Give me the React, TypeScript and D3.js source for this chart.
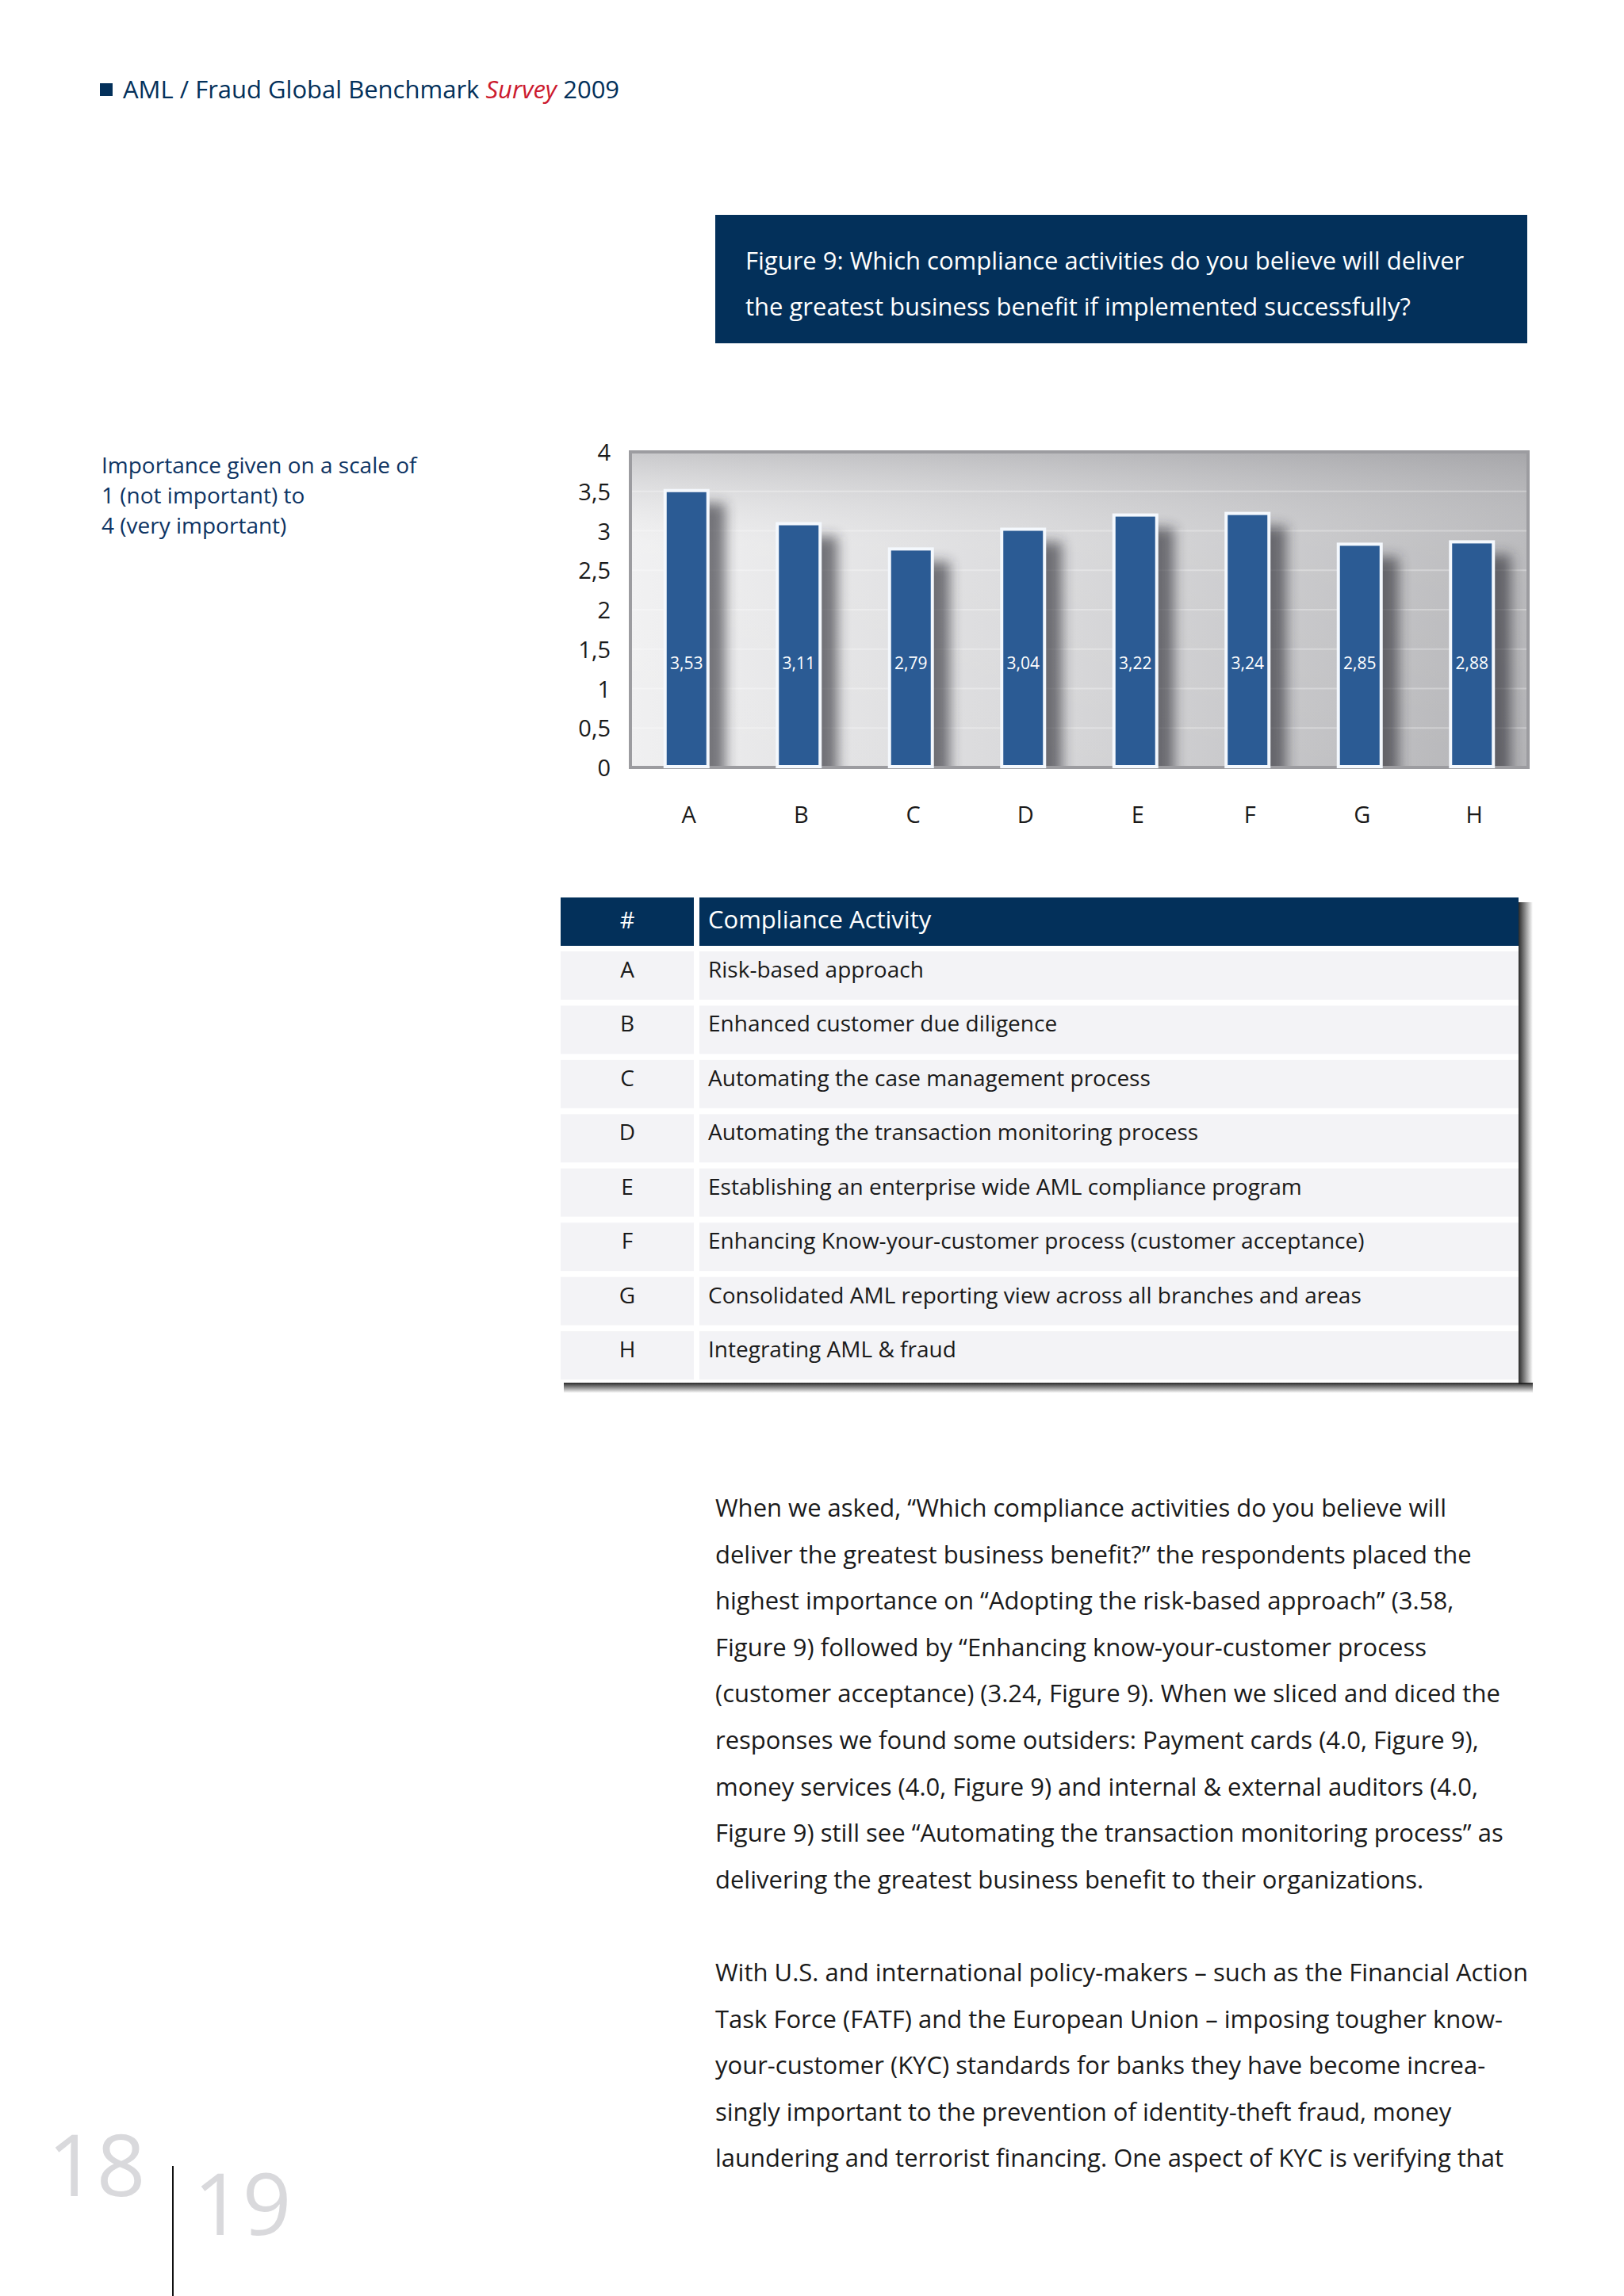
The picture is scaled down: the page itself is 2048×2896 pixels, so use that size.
import React from 'react';
import * as d3 from 'd3';

// chart data
const categories = ['A', 'B', 'C', 'D', 'E', 'F', 'G', 'H'];
const scores = [3.53, 3.11, 2.79, 3.04, 3.22, 3.24, 2.85, 2.88];
const yTicks = [0, 0.5, 1, 1.5, 2, 2.5, 3, 3.5, 4];

// table data
const activities = [
  'Risk-based approach',
  'Enhanced customer due diligence',
  'Automating the case management process',
  'Automating the transaction monitoring process',
  'Establishing an enterprise wide AML compliance program',
  'Enhancing Know-your-customer process (customer acceptance)',
  'Consolidated AML reporting view across all branches and areas',
  'Integrating AML & fraud',
];

const titleLines = [
  'Figure 9: Which compliance activities do you believe will deliver',
  'the greatest business benefit if implemented successfully?',
];

const noteLines = [
  'Importance given on a scale of',
  '1 (not important) to',
  '4 (very important)',
];

const para1 = [
  'When we asked, \u201cWhich compliance activities do you believe will',
  'deliver the greatest business benefit?\u201d the respondents placed the',
  'highest importance on \u201cAdopting the risk-based approach\u201d (3.58,',
  'Figure 9) followed by \u201cEnhancing know-your-customer process',
  '(customer acceptance) (3.24, Figure 9). When we sliced and diced the',
  'responses we found some outsiders: Payment cards (4.0, Figure 9),',
  'money services (4.0, Figure 9) and internal & external auditors (4.0,',
  'Figure 9) still see \u201cAutomating the transaction monitoring process\u201d as',
  'delivering the greatest business benefit to their organizations.',
];

const para2 = [
  'With U.S. and international policy-makers \u2013 such as the Financial Action',
  'Task Force (FATF) and the European Union \u2013 imposing tougher know-',
  'your-customer (KYC) standards for banks they have become increa-',
  'singly important to the prevention of identity-theft fraud, money',
  'laundering and terrorist financing. One aspect of KYC is verifying that',
];

const NAVY = '#03305a';
const FONT = '"Open Sans", "Noto Sans", sans-serif';
const comma = d3.formatLocale({ decimal: ',', thousands: '.', grouping: [3], currency: ['', ''] });

const App: React.FC = () => {
  const W = 2048;
  const H = 2896;

  // plot area
  const plot = { left: 795, right: 1927, top: 570, bottom: 968 };

  const x = d3
    .scaleBand<string>()
    .domain(categories)
    .range([plot.left, plot.right])
    .paddingInner(0.59)
    .paddingOuter(0.295);

  const y = d3.scaleLinear().domain([0, 4]).range([plot.bottom, plot.top]);

  const fmtTick = (v: number) => (v % 1 === 0 ? String(v) : comma.format('.1f')(v));
  const fmtVal = comma.format('.2f');

  // table rows
  const rowTop = d3
    .scaleBand<string>()
    .domain(categories)
    .range([1200, 1740])
    .paddingInner(0.11);

  const tbl = { left: 707, col: 875, col2: 882, right: 1915 };

  const lineY = (start: number, i: number) => start + i * 58.6;

  return (
    <svg
      width={W}
      height={H}
      viewBox={`0 0 ${W} ${H}`}
      style={{ position: 'absolute', left: 0, top: 0, display: 'block', background: '#fff' }}
      fontFamily={FONT}
    >
      <defs>
        <linearGradient id="bgH" x1="0" x2="1" y1="0" y2="0">
          <stop offset="0%" stopColor="#efeff0" />
          <stop offset="45%" stopColor="#d6d6d8" />
          <stop offset="100%" stopColor="#afafb2" />
        </linearGradient>
        <linearGradient id="bgV" x1="0" x2="0" y1="0" y2="1">
          <stop offset="0%" stopColor="#9a9a9e" stopOpacity="0.45" />
          <stop offset="30%" stopColor="#ffffff" stopOpacity="0.15" />
          <stop offset="100%" stopColor="#ffffff" stopOpacity="0.05" />
        </linearGradient>
        <filter id="blur" x="-50%" y="-20%" width="200%" height="140%">
          <feGaussianBlur stdDeviation="8" />
        </filter>
        <clipPath id="plotClip">
          <rect x={plot.left} y={plot.top} width={plot.right - plot.left} height={plot.bottom - plot.top} />
        </clipPath>
        <linearGradient id="tblShadowR" x1="0" x2="1" y1="0" y2="0">
          <stop offset="0%" stopColor="#1e1e1e" stopOpacity="0.95" />
          <stop offset="100%" stopColor="#1e1e1e" stopOpacity="0" />
        </linearGradient>
        <linearGradient id="tblShadowB" x1="0" x2="0" y1="0" y2="1">
          <stop offset="0%" stopColor="#1e1e1e" stopOpacity="0.95" />
          <stop offset="100%" stopColor="#1e1e1e" stopOpacity="0" />
        </linearGradient>
      </defs>

      {/* page header */}
      <rect x={126} y={105} width={16} height={16} fill={NAVY} />
      <text x={155} y={124} fontSize={31} fill={NAVY}>
        AML / Fraud Global Benchmark{' '}
        <tspan fill="#cc1a2e" fontStyle="italic">Survey</tspan> 2009
      </text>

      {/* title box */}
      <rect x={902} y={271} width={1024} height={162} fill={NAVY} />
      {titleLines.map((t, i) => (
        <text key={i} x={940} y={340 + i * 58} fontSize={31} fill="#fff">
          {t}
        </text>
      ))}

      {/* side note */}
      {noteLines.map((t, i) => (
        <text key={i} x={128} y={597 + i * 38} fontSize={28} fill="#0e3463">
          {t}
        </text>
      ))}

      {/* plot background */}
      <rect x={plot.left} y={plot.top} width={plot.right - plot.left} height={plot.bottom - plot.top} fill="url(#bgH)" />
      <rect x={plot.left} y={plot.top} width={plot.right - plot.left} height={plot.bottom - plot.top} fill="url(#bgV)" />
      {yTicks.slice(1, -1).map(t => (
        <line key={t} x1={plot.left} x2={plot.right} y1={y(t)} y2={y(t)} stroke="#ffffff" strokeOpacity={0.3} strokeWidth={2} />
      ))}

      {/* bar shadows */}
      <g clipPath="url(#plotClip)">
        {scores.map((v, i) => (
          <rect
            key={'s' + i}
            x={(x(categories[i]) ?? 0) + 16}
            y={y(v) + 18}
            width={x.bandwidth() + 4}
            height={plot.bottom - y(v)}
            fill="#26262e"
            opacity={0.6}
            filter="url(#blur)"
          />
        ))}
      </g>

      <rect
        x={plot.left}
        y={plot.top}
        width={plot.right - plot.left}
        height={plot.bottom - plot.top}
        fill="none"
        stroke="#9c9ca0"
        strokeWidth={4}
      />

      {/* bars */}
      {scores.map((v, i) => (
        <rect
          key={'b' + i}
          x={(x(categories[i]) ?? 0) + 2}
          y={y(v) + 2}
          width={x.bandwidth() - 4}
          height={plot.bottom - y(v) - 3}
          fill="#2b5b94"
          stroke="#f4f8fd"
          strokeWidth={4}
        />
      ))}

      {/* value labels */}
      {scores.map((v, i) => (
        <text
          key={'v' + i}
          x={(x(categories[i]) ?? 0) + x.bandwidth() / 2}
          y={844}
          fontSize={21}
          fill="#fff"
          textAnchor="middle"
        >
          {fmtVal(v)}
        </text>
      ))}

      {/* y axis labels */}
      {yTicks.map(t => (
        <text key={t} x={770} y={y(t) + 11} fontSize={29} fill="#1a1a1a" textAnchor="end">
          {fmtTick(t)}
        </text>
      ))}

      {/* x axis labels */}
      {categories.map(c => (
        <text key={c} x={(x(c) ?? 0) + x.bandwidth() / 2 + 3} y={1038} fontSize={29} fill="#1a1a1a" textAnchor="middle">
          {c}
        </text>
      ))}

      {/* table shadow */}
      <rect x={tbl.right} y={1138} width={18} height={608} fill="url(#tblShadowR)" />
      <rect x={tbl.left + 4} y={1744} width={tbl.right - tbl.left + 14} height={13} fill="url(#tblShadowB)" />

      {/* table header */}
      <rect x={tbl.left} y={1132} width={tbl.col - tbl.left} height={61} fill={NAVY} />
      <rect x={tbl.col2} y={1132} width={tbl.right - tbl.col2} height={61} fill={NAVY} />
      <text x={(tbl.left + tbl.col) / 2} y={1171} fontSize={29} fill="#fff" textAnchor="middle">
        #
      </text>
      <text x={893} y={1171} fontSize={31} fill="#fff">
        Compliance Activity
      </text>

      {/* table rows */}
      {categories.map((c, i) => {
        const top = rowTop(c) ?? 0;
        return (
          <g key={'r' + c}>
            <rect x={tbl.left} y={top} width={tbl.col - tbl.left} height={rowTop.bandwidth()} fill="#f3f3f6" />
            <rect x={tbl.col2} y={top} width={tbl.right - tbl.col2} height={rowTop.bandwidth()} fill="#f3f3f6" />
            <text x={(tbl.left + tbl.col) / 2} y={top + 33} fontSize={28} fill="#1a1a1a" textAnchor="middle">
              {c}
            </text>
            <text x={893} y={top + 33} fontSize={28} fill="#1a1a1a">
              {activities[i]}
            </text>
          </g>
        );
      })}

      {/* body text */}
      {para1.map((t, i) => (
        <text key={'p1' + i} x={902} y={lineY(1913, i)} fontSize={31} fill="#1a1a1a">
          {t}
        </text>
      ))}
      {para2.map((t, i) => (
        <text key={'p2' + i} x={902} y={lineY(2499, i)} fontSize={31} fill="#1a1a1a">
          {t}
        </text>
      ))}

      {/* page numbers */}
      <text x={60} y={2770} fontSize={108} fill="#d9d9dc">
        18
      </text>
      <line x1={218} x2={218} y1={2732} y2={H} stroke="#111" strokeWidth={2} />
      <text x={244} y={2819} fontSize={108} fill="#d9d9dc">
        19
      </text>
    </svg>
  );
};

export default App;
